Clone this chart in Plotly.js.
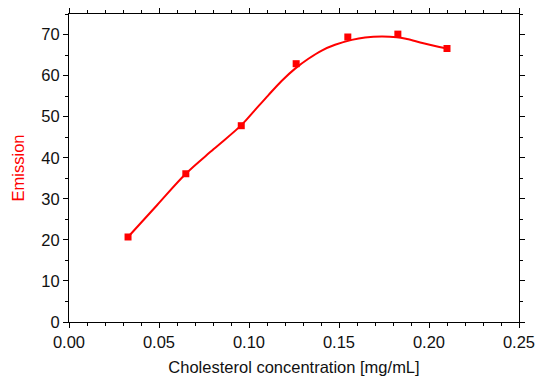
<!DOCTYPE html>
<html>
<head>
<meta charset="utf-8">
<script src="https://cdn.plot.ly/plotly-3.0.1.min.js"></script>
<style>html,body{margin:0;padding:0;background:#fff;}</style>
</head>
<body>
<div id="chart" style="width:537px;height:376px;"></div>
<script>
// Measured data points
const concentration = [0.0328, 0.0649, 0.0957, 0.1262, 0.1549, 0.1827, 0.2100];
const emission = [20.7, 36.1, 47.8, 62.9, 69.4, 70.1, 66.6];

// Fitted curve
const fitX = [0.0328, 0.0490, 0.0649, 0.0804, 0.0959, 0.1033, 0.1107, 0.1181, 0.1256, 0.1330, 0.1404, 0.1478, 0.1571, 0.1645, 0.1738, 0.1821, 0.1877, 0.1969, 0.2100];
const fitY = [20.7, 28.5, 36.1, 42.1, 48.0, 51.6, 55.2, 58.7, 61.7, 64.1, 66.1, 67.5, 68.7, 69.3, 69.55, 69.35, 68.9, 67.9, 66.6];

const xTitle = "Cholesterol concentration [mg/mL]";
const yTitle = "Emission";

const FONT = 'Liberation Sans, Arial, sans-serif';

const traces = [
  {x: fitX, y: fitY, type: 'scatter', mode: 'lines',
   line: {color: '#ff0000', width: 2, shape: 'spline', smoothing: 1}, hoverinfo: 'skip'},
  {x: concentration, y: emission, type: 'scatter', mode: 'markers',
   marker: {symbol: 'square', size: 7, color: '#ff0000'}}
];

const axisCommon = {
  showgrid: false, zeroline: false, showline: true, linecolor: '#000', linewidth: 1,
  mirror: 'allticks', ticks: 'outside', ticklen: 5, tickcolor: '#000', tickwidth: 1,
  tickfont: {family: FONT, size: 16.5, color: '#111'}
};

const layout = {
  width: 537, height: 376,
  margin: {l: 69, r: 18, t: 14, b: 54},
  paper_bgcolor: '#fff', plot_bgcolor: '#fff',
  showlegend: false,
  xaxis: Object.assign({}, axisCommon, {
    range: [0, 0.25], tickvals: [0, 0.05, 0.10, 0.15, 0.20, 0.25],
    ticktext: ['0.00', '0.05', '0.10', '0.15', '0.20', '0.25'],
    minor: {dtick: 0.01, ticks: 'outside', ticklen: 3, tickcolor: '#000'},
    title: {text: xTitle, standoff: 11, font: {family: FONT, size: 16.5, color: '#111'}}
  }),
  yaxis: Object.assign({}, axisCommon, {
    range: [0, 75], tickvals: [0, 10, 20, 30, 40, 50, 60, 70],
    minor: {dtick: 5, ticks: 'outside', ticklen: 3, tickcolor: '#000'},
    title: {text: yTitle, standoff: 12, font: {family: FONT, size: 16.5, color: '#ff0000'}}
  })
};

Plotly.newPlot('chart', traces, layout, {displayModeBar: false, staticPlot: true});
</script>
</body>
</html>
